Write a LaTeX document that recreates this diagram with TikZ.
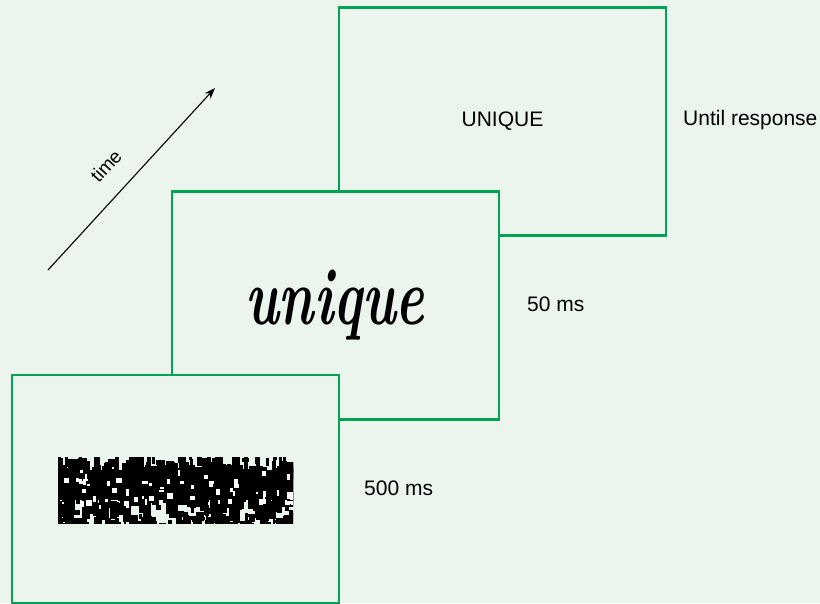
\documentclass[tikz,border=0pt]{standalone}
\usepackage{fontspec}
\setmainfont{Liberation Sans}
\usepackage{graphicx}
\usepackage{tikz}
\usetikzlibrary{arrows.meta,positioning}
\usepackage{xcolor}
\definecolor{panelbg}{RGB}{235,245,238}
\definecolor{screengreen}{RGB}{0,163,84}
\newcommand{\labelfont}{\fontsize{21}{25}\selectfont}
\newcommand{\wordfont}{\fontfamily{lmr}\fontseries{bx}\fontshape{it}\fontsize{57}{64}\selectfont}

\begin{document}
\begin{tikzpicture}[x=1pt, y=-1pt,
  screen/.style={draw=screengreen, line width=2.8pt, fill=panelbg,
    minimum width=327pt, minimum height=228pt, inner sep=0pt},
  durlabel/.style={anchor=west, inner sep=0pt, font=\labelfont}]
  % 背景
  \fill[panelbg] (0,0) rectangle (820,603);
  \useasboundingbox (0,0) rectangle (820,603);

  % 時間軸
  \coordinate (t0) at (48,270);
  \coordinate (t1) at (215,88);
  \draw[line width=1.1pt, -{Stealth[length=11pt,width=8pt]}] (t0) -- (t1);
  \node[rotate=47.5, inner sep=0pt, font=\fontsize{19}{22}\selectfont] (timelbl) at (106,166) {time};

  % 画面（奥から手前へ）
  \node[screen, font=\labelfont] (target) at (502.5,121.5) {UNIQUE};
  \node[screen] (prime) at (335.5,305.5) {};
  \node[screen] (mask) at (175.5,489) {};

  % プライム語
  \node[inner sep=0pt, font=\wordfont] (word) at (335,305) {\scalebox{0.95}[1.42]{unique}};

  % マスク
  \begin{scope}
    \clip (58,457) rectangle (293,523);
    \pgfmathsetseed{11}
    \fill[black] (58,470) rectangle (293,500);
    \foreach \k in {1,...,420} {
      \pgfmathsetmacro{\mx}{55+240*rnd}
      \pgfmathsetmacro{\my}{455+50*rnd}
      \pgfmathsetmacro{\mw}{2+7*rnd}
      \pgfmathsetmacro{\mh}{4+14*rnd}
      \fill[black] (\mx,\my) rectangle ++(\mw,\mh);
    }
    \foreach \k in {1,...,60} {
      \pgfmathsetmacro{\mx}{58+235*rnd}
      \pgfmathsetmacro{\my}{470+32*rnd}
      \pgfmathsetmacro{\mw}{2+4*rnd}
      \pgfmathsetmacro{\mh}{2+5*rnd}
      \fill[white!95!panelbg] (\mx,\my) rectangle ++(\mw,\mh);
    }
    \foreach \k in {1,...,150} {
      \pgfmathsetmacro{\mx}{55+240*rnd}
      \pgfmathsetmacro{\my}{508+16*rnd}
      \pgfmathsetmacro{\mw}{2+7*rnd}
      \pgfmathsetmacro{\mh}{2+9*rnd}
      \fill[black] (\mx,\my) rectangle ++(\mw,\mh);
    }
  \end{scope}

  % 提示時間
  \node[durlabel] (until) at (683,120) {Until response};
  \node[durlabel] (fifty) at (527,304) {50 ms};
  \node[durlabel] (fivehundred) at (364,488) {500 ms};
\end{tikzpicture}
\end{document}
